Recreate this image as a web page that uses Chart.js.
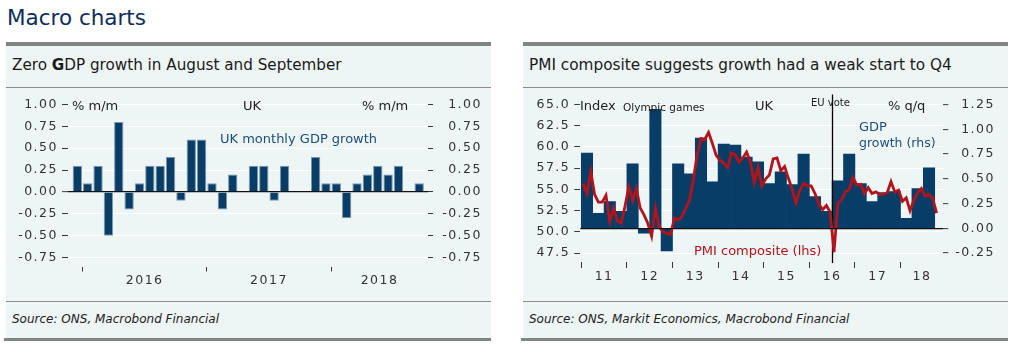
<!DOCTYPE html>
<html><head><meta charset="utf-8">
<script src="https://cdn.jsdelivr.net/npm/chart.js@4"></script>
<style>
html,body{margin:0;padding:0;background:#fff;}
body{width:1024px;height:351px;position:relative;overflow:hidden;font-family:'DejaVu Sans',sans-serif;color:#1a1a1a;}
.gbar{position:absolute;background:#838383;}
.bg{position:absolute;background:#eef5f5;}
.sep{position:absolute;height:1px;background:#8c8c8c;}
.t{position:absolute;white-space:nowrap;line-height:1;transform:translateY(-50%);}
canvas{position:absolute;}
</style></head><body>
<div class="t" style="left:7px;top:18px;font-size:21.5px;color:#0c2d5c;">Macro charts</div>

<!-- left panel -->
<div class="gbar" style="left:6px;top:42px;width:485px;height:4px;"></div>
<div class="bg" style="left:6px;top:46px;width:485px;height:292px;"></div>
<div class="sep" style="left:6px;top:87px;width:485px;"></div>
<div class="sep" style="left:6px;top:301px;width:485px;"></div>
<div class="gbar" style="left:4px;top:338px;width:487px;height:3px;"></div>
<div class="t" style="left:12px;top:66px;font-size:15.2px;color:#1a1a1a;">Zero <b>G</b>DP growth in August and September</div>
<div class="t" style="left:12px;top:319px;font-size:12px;font-style:italic;color:#222;">Source: ONS, Macrobond Financial</div>

<!-- right panel -->
<div class="gbar" style="left:523px;top:42px;width:485px;height:4px;"></div>
<div class="bg" style="left:523px;top:46px;width:485px;height:292px;"></div>
<div class="sep" style="left:523px;top:87px;width:485px;"></div>
<div class="sep" style="left:523px;top:301px;width:485px;"></div>
<div class="gbar" style="left:521px;top:338px;width:487px;height:3px;"></div>
<div class="t" style="left:529px;top:66px;font-size:15.3px;color:#1a1a1a;">PMI composite suggests growth had a weak start to Q4</div>
<div class="t" style="left:529px;top:319px;font-size:12px;font-style:italic;color:#222;">Source: ONS, Markit Economics, Macrobond Financial</div>

<canvas id="c1" width="485" height="212" style="left:6px;top:88px;"></canvas>
<canvas id="c2" width="485" height="212" style="left:523px;top:88px;"></canvas>

<!-- left chart annotations -->
<div class="t" style="left:72px;top:105px;font-size:13px;color:#222;">% m/m</div>
<div class="t" style="left:243px;top:105px;font-size:13px;color:#222;">UK</div>
<div class="t" style="left:362px;top:105px;font-size:13px;color:#222;">% m/m</div>
<div class="t" style="left:220px;top:138px;font-size:13px;color:#1d4e7b;">UK monthly GDP growth</div>

<!-- right chart annotations -->
<div class="t" style="left:580px;top:105px;font-size:13px;color:#222;">Index</div>
<div class="t" style="left:623px;top:107px;font-size:10.5px;color:#222;">Olympic games</div>
<div class="t" style="left:755px;top:105px;font-size:13px;color:#222;">UK</div>
<div class="t" style="left:811px;top:103px;font-size:10px;color:#222;">EU vote</div>
<div class="t" style="left:888px;top:105px;font-size:13px;color:#222;">% q/q</div>
<div class="t" style="left:859px;top:126px;font-size:13px;color:#1d4e7b;">GDP</div>
<div class="t" style="left:859px;top:143px;font-size:12.5px;color:#1d4e7b;">growth (rhs)</div>
<div class="t" style="left:694px;top:250px;font-size:13px;color:#b3141c;">PMI composite (lhs)</div>

<script>
// ---------- DATA ----------
const MONTHS = ['Jan','Feb','Mar','Apr','May','Jun','Jul','Aug','Sep','Oct','Nov','Dec'];
function monthRange(y0, m0, y1, m1){ const out=[]; for(let y=y0;y<=y1;y++){ for(let m=(y===y0?m0:0); m<=(y===y1?m1:11); m++) out.push(MONTHS[m]+' '+y);} return out; }

// Left chart: UK monthly GDP growth, % m/m
const gdpMonths = monthRange(2015, 11, 2018, 8); // Dec 2015 .. Sep 2018
const gdpMoM = [0.3, 0.1, 0.3, -0.5, 0.8, -0.2, 0.1, 0.3, 0.3, 0.4, -0.1, 0.6,
                0.6, 0.1, -0.2, 0.2, 0.0, 0.3, 0.3, -0.1, 0.3, 0.0, 0.0, 0.4,
                0.1, 0.1, -0.3, 0.1, 0.2, 0.3, 0.2, 0.3, 0.0, 0.1];
const gdpYearLabels = ['2016', '2017', '2018'];
const gdpAxisTicks = [-0.75, -0.5, -0.25, 0, 0.25, 0.5, 0.75, 1.0];

// Right chart: PMI composite (monthly, lhs) and GDP q/q (quarterly, rhs)
const pmiMonths = monthRange(2011, 0, 2018, 9); // Jan 2011 .. Oct 2018
const pmiComposite = [
  55.7, 54.5, 57.1, 54.4, 53.5, 53.5, 54.3, 51.2, 52.8, 51.3, 51.0, 53.0,
  55.3, 53.7, 55.1, 52.8, 52.0, 51.0, 49.5, 52.8, 50.6, 50.0, 49.8, 49.7,
  51.6, 51.4, 51.8, 52.8, 53.8, 56.2, 59.1, 61.0, 60.9, 61.7, 60.4, 59.0,
  58.4, 58.1, 57.6, 59.3, 59.1, 58.2, 58.7, 59.4, 58.2, 55.8, 57.6, 55.4,
  56.2, 56.7, 58.6, 58.7, 57.2, 57.7, 56.3, 55.0, 53.4, 54.9, 55.7, 55.4,
  55.4, 54.5, 53.3, 52.6, 53.1, 52.3, 47.6, 53.3, 53.8, 54.7, 55.0, 56.4,
  55.5, 55.6, 54.5, 55.2, 54.5, 54.7, 54.4, 54.4, 54.6, 55.9, 54.7, 54.9,
  53.6, 54.0, 52.5, 53.7, 54.6, 55.1, 54.2, 54.4, 53.9, 52.2];
const gdpQuarters = [];
for (let y = 2011; y <= 2018; y++) for (let q = 1; q <= 4; q++) if (!(y === 2018 && q > 3)) gdpQuarters.push(y + 'Q' + q);
const gdpQoQ = [0.76, 0.15, 0.27, 0.17, 0.65, -0.05, 1.20, -0.23,
                0.65, 0.55, 0.91, 0.47, 0.85, 0.84, 0.72, 0.67,
                0.45, 0.57, 0.44, 0.75, 0.32, 0.17, 0.48, 0.75,
                0.45, 0.27, 0.36, 0.37, 0.10, 0.40, 0.61];
const pmiYearLabels = ['11', '12', '13', '14', '15', '16', '17', '18'];
const pmiAxisTicks = [47.5, 50.0, 52.5, 55.0, 57.5, 60.0, 62.5, 65.0];
const gdpQoQAxisTicks = [-0.25, 0, 0.25, 0.5, 0.75, 1.0, 1.25];
const euVoteMonth = 'Jul 2016'; // vote took place at the end of June 2016

// ---------- STYLE ----------
const NAVY = '#073d66', RED = '#b3141c', TICK = '#3a3a3a', NONE = 'rgba(0,0,0,0)';
Chart.defaults.font.family = "'DejaVu Sans', sans-serif";
Chart.defaults.font.size = 12.5;
Chart.defaults.color = '#333';
const spacingPlugin = { id: 'ls',
  beforeLayout(c){ c.ctx.letterSpacing = '1.5px'; },
  beforeDraw(c){ c.ctx.letterSpacing = '1.5px'; } };
const tv = c => (c && c.tick) ? c.tick.value : NaN;
const isZero = c => Math.abs(tv(c)) < 1e-9;

function yearTicks(labels, yearNames, axisMax) {
  const starts = [];
  labels.forEach((l, i) => { if (l.startsWith('Jan')) starts.push(i); });
  const mids = starts.map(s => (s + Math.min(s + 12, axisMax)) / 2);
  const labelMap = new Map(mids.map((m, k) => [m, yearNames[k]]));
  return { starts, mids, labelMap };
}

// ---------- LEFT CHART ----------
const L_MIN = -0.4, L_MAX = 34.35;
const gY = yearTicks(gdpMonths, gdpYearLabels, L_MAX);
new Chart(document.getElementById('c1'), {
  type: 'bar',
  data: { datasets: [{
    data: gdpMoM.map((v, i) => ({ x: i + 0.5, y: v })),
    backgroundColor: NAVY, borderColor: '#7f97ad', borderWidth: 1,
    barPercentage: 0.9, categoryPercentage: 1
  }]},
  plugins: [spacingPlugin],
  options: {
    responsive: false, animation: false,
    layout: { padding: { top: 16.5, right: 9, left: 0, bottom: 0 } },
    plugins: { legend: { display: false }, tooltip: { enabled: false } },
    scales: {
      x: { type: 'linear', min: L_MIN, max: L_MAX, offset: false,
        afterBuildTicks: s => { s.ticks = [...gY.starts, ...gY.mids].sort((a,b)=>a-b).map(v => ({ value: v })); },
        afterFit: s => { s.height = 42.5; },
        border: { display: false },
        grid: { offset: false, drawOnChartArea: false, tickLength: 14, tickWidth: 1,
          tickColor: c => gY.starts.includes(tv(c)) ? TICK : NONE,
          tickBorderDash: [0, 9, 5, 100] },
        ticks: { autoSkip: false, maxRotation: 0, padding: 2,
          callback: v => gY.labelMap.get(v) || '' } },
      y: { position: 'left', min: -0.75, max: 1,
        afterBuildTicks: s => { s.ticks = gdpAxisTicks.map(v => ({ value: v })); },
        afterFit: s => { s.width = 62; },
        border: { display: false },
        grid: { color: c => isZero(c) ? '#111' : '#ffffff', lineWidth: c => isZero(c) ? 1.3 : 1,
          tickLength: 6, tickColor: TICK, tickWidth: 1 },
        ticks: { padding: 4, callback: v => v.toFixed(2) } },
      y2: { position: 'right', min: -0.75, max: 1,
        afterBuildTicks: s => { s.ticks = gdpAxisTicks.map(v => ({ value: v })); },
        afterFit: s => { s.width = 54; },
        border: { display: false },
        grid: { drawOnChartArea: false, tickLength: 5, tickColor: TICK, tickWidth: 1 },
        ticks: { padding: 9, crossAlign: 'far', callback: v => v.toFixed(2) } }
    }
  }
});

// ---------- RIGHT CHART ----------
const R_MIN = -0.26, R_MAX = 95.26;
const pY = yearTicks(pmiMonths, pmiYearLabels, R_MAX);
const euX = pmiMonths.indexOf(euVoteMonth);
const euPlugin = { id: 'eu',
  beforeDatasetDraw(chart, args) {
    if (args.index !== 0) return;
    const x = Math.round(chart.scales.x.getPixelForValue(euX)) + 0.5;
    const a = chart.chartArea, ctx = chart.ctx;
    ctx.save(); ctx.strokeStyle = '#000'; ctx.lineWidth = 1.3;
    ctx.beginPath(); ctx.moveTo(x, a.top - 10); ctx.lineTo(x, a.bottom + 10); ctx.stroke(); ctx.restore();
  } };
new Chart(document.getElementById('c2'), {
  type: 'bar',
  data: { datasets: [
    { type: 'line', data: pmiComposite.map((v, i) => ({ x: i + 0.5, y: v })), yAxisID: 'yL',
      borderColor: RED, borderWidth: 2.8, pointRadius: 0, tension: 0, order: 0 },
    { type: 'bar', data: gdpQoQ.map((v, i) => ({ x: 3 * i + 1.5, y: v })), yAxisID: 'yR',
      backgroundColor: NAVY, borderWidth: 0, barPercentage: 1, categoryPercentage: 1, order: 1 }
  ]},
  plugins: [spacingPlugin, euPlugin],
  options: {
    responsive: false, animation: false,
    layout: { padding: { top: 16.5, right: 13, left: 0, bottom: 0 } },
    plugins: { legend: { display: false }, tooltip: { enabled: false } },
    scales: {
      x: { type: 'linear', min: R_MIN, max: R_MAX, offset: false,
        afterBuildTicks: s => { s.ticks = [...pY.starts, ...pY.mids].sort((a,b)=>a-b).map(v => ({ value: v })); },
        afterFit: s => { s.height = 47; },
        border: { display: false },
        grid: { offset: false, drawOnChartArea: false, tickLength: 15, tickWidth: 1,
          tickColor: c => pY.starts.includes(tv(c)) ? TICK : NONE,
          tickBorderDash: [0, 9, 6, 100] },
        ticks: { autoSkip: false, maxRotation: 0, padding: 1,
          callback: v => pY.labelMap.get(v) || '' } },
      yL: { position: 'left', min: 47.5, max: 65,
        afterBuildTicks: s => { s.ticks = pmiAxisTicks.map(v => ({ value: v })); },
        afterFit: s => { s.width = 57.3; },
        border: { display: false },
        grid: { color: '#ffffff', lineWidth: 1, tickLength: 6, tickColor: TICK, tickWidth: 1 },
        ticks: { padding: 4, callback: v => v.toFixed(1) } },
      yR: { position: 'right', min: -0.25, max: 1.25,
        afterBuildTicks: s => { s.ticks = gdpQoQAxisTicks.map(v => ({ value: v })); },
        afterFit: s => { s.width = 51.7; },
        border: { display: false },
        grid: { z: 1, color: c => isZero(c) ? '#111' : NONE, lineWidth: 1.3,
          tickLength: 5, tickColor: TICK, tickWidth: 1 },
        ticks: { padding: 8, crossAlign: 'far', callback: v => v.toFixed(2) } }
    }
  }
});
</script>
</body></html>
